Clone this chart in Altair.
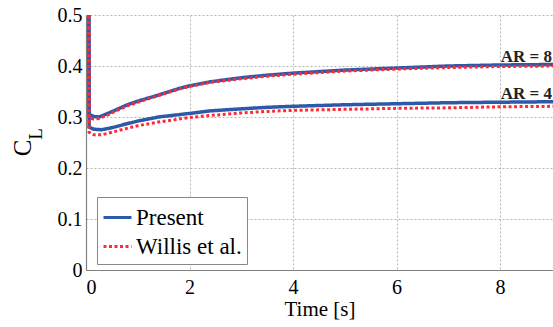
import altair as alt
import pandas as pd

# Lift coefficient histories for two aspect ratios
t_ar8 = [0.04, 0.06, 0.15, 0.25, 0.4, 0.6, 0.8, 1.0, 1.4, 1.8, 2.0, 2.4, 3.0, 3.5, 4.0, 4.5, 5.0, 6.0, 7.0, 8.0, 9.1]
present_ar8 = [1.2, 0.305, 0.301, 0.300, 0.306, 0.315, 0.324, 0.331, 0.343, 0.356, 0.361, 0.369, 0.377, 0.382, 0.386, 0.389, 0.392, 0.396, 0.400, 0.402, 0.403]
willis_ar8 = [1.2, 0.298, 0.296, 0.297, 0.303, 0.313, 0.322, 0.329, 0.342, 0.355, 0.360, 0.368, 0.375, 0.380, 0.384, 0.387, 0.390, 0.394, 0.397, 0.399, 0.400]

t_ar4 = [0.04, 0.06, 0.15, 0.3, 0.5, 0.8, 1.0, 1.4, 2.0, 2.4, 3.0, 3.5, 4.0, 5.0, 6.0, 7.0, 8.0, 9.1]
present_ar4 = [1.2, 0.280, 0.276, 0.275, 0.279, 0.287, 0.292, 0.300, 0.307, 0.312, 0.316, 0.319, 0.321, 0.324, 0.326, 0.328, 0.329, 0.330]
willis_ar4 = [1.2, 0.270, 0.265, 0.265, 0.270, 0.278, 0.283, 0.290, 0.299, 0.303, 0.308, 0.311, 0.313, 0.315, 0.317, 0.318, 0.320, 0.321]

series_names = ["Present", "Willis et al."]
series_colors = ["#2c5aa8", "#ff2a35"]

ar_labels = ["AR = 8", "AR = 4"]
ar_label_t = [9.005, 9.005]
ar_label_cl = [0.408, 0.335]

x_ticks = [0, 2, 4, 6, 8]
y_ticks = [0, 0.1, 0.2, 0.3, 0.4, 0.5]

rows = []
for case, t, pres, wil in [("AR8", t_ar8, present_ar8, willis_ar8),
                           ("AR4", t_ar4, present_ar4, willis_ar4)]:
    for ti, v in zip(t, pres):
        rows.append({"time": ti, "cl": v, "source": series_names[0], "case": case})
    for ti, v in zip(t, wil):
        rows.append({"time": ti, "cl": v, "source": series_names[1], "case": case})
df = pd.DataFrame(rows)

FONT = "Liberation Serif"

x_scale = alt.Scale(domain=[0, 9.024], nice=False, zero=False)
y_scale = alt.Scale(domain=[0, 0.5], nice=False)

x_enc = alt.X("time:Q", scale=x_scale,
              axis=alt.Axis(values=x_ticks, title="Time [s]", labelExpr="format(datum.value, 'd')"))
y_enc = alt.Y("cl:Q", scale=y_scale,
              axis=alt.Axis(values=y_ticks, title=None,
                            labelExpr="datum.value == 0 ? '0' : format(datum.value, '.1f')"))

color_enc = alt.Color("source:N", scale=alt.Scale(domain=series_names, range=series_colors),
                      legend=alt.Legend(title=None))
dash_enc = alt.StrokeDash("source:N", scale=alt.Scale(domain=series_names, range=[[1, 0], [3, 2.5]]),
                          legend=alt.Legend(title=None))

present_lines = alt.Chart(df).transform_filter(
    alt.datum.source == series_names[0]
).mark_line(clip=True, strokeWidth=3.5).encode(
    x=x_enc, y=y_enc, color=color_enc, strokeDash=dash_enc, detail="case:N",
    order="time:Q",
)

willis_lines = alt.Chart(df).transform_filter(
    alt.datum.source == series_names[1]
).mark_line(clip=True, strokeWidth=3).encode(
    x="time:Q", y="cl:Q", color=color_enc, strokeDash=dash_enc, detail="case:N",
    order="time:Q",
)

ar_df = pd.DataFrame({"time": ar_label_t, "cl": ar_label_cl, "label": ar_labels})
ar_text = alt.Chart(ar_df).mark_text(
    font=FONT, fontSize=17, fontWeight="bold", align="right", baseline="alphabetic", color="#222"
).encode(x="time:Q", y="cl:Q", text="label:N")

# y-axis title C with subscript L, rotated
c_text = alt.Chart(pd.DataFrame({"t": ["C"]})).mark_text(
    font=FONT, fontSize=25, angle=270, align="center", baseline="middle", color="black"
).encode(x=alt.value(-63), y=alt.value(133), text="t:N")
l_text = alt.Chart(pd.DataFrame({"t": ["L"]})).mark_text(
    font=FONT, fontSize=19, angle=270, align="center", baseline="middle", color="black"
).encode(x=alt.value(-50), y=alt.value(119), text="t:N")

chart = alt.layer(present_lines, willis_lines, ar_text, c_text, l_text).properties(
    width=467, height=255,
    autosize=alt.AutoSizeParams(type="none"),
    padding={"left": 86, "top": 15, "right": 0, "bottom": 57},
).configure(font=FONT).configure_view(stroke=None).configure_axis(
    labelFont=FONT, labelFontSize=20, labelColor="black",
    titleFont=FONT, titleFontSize=21, titleColor="black", titleFontWeight="normal",
    domainColor="#808080", domainWidth=1.2,
    gridColor="#b4b4b4", gridDash=[2, 2], gridWidth=1,
    tickSize=0,
).configure_axisX(labelPadding=7, titlePadding=1).configure_axisY(labelPadding=4).configure_legend(
    orient="none", legendX=11, legendY=182,
    fillColor="white", strokeColor="#888", padding=5,
    labelFont=FONT, labelFontSize=23, labelColor="black", labelOffset=3,
    symbolType="stroke", symbolSize=784, symbolStrokeWidth=3, rowPadding=1,
)

chart.save("out.html", embed_options={"renderer": "svg", "actions": False})
